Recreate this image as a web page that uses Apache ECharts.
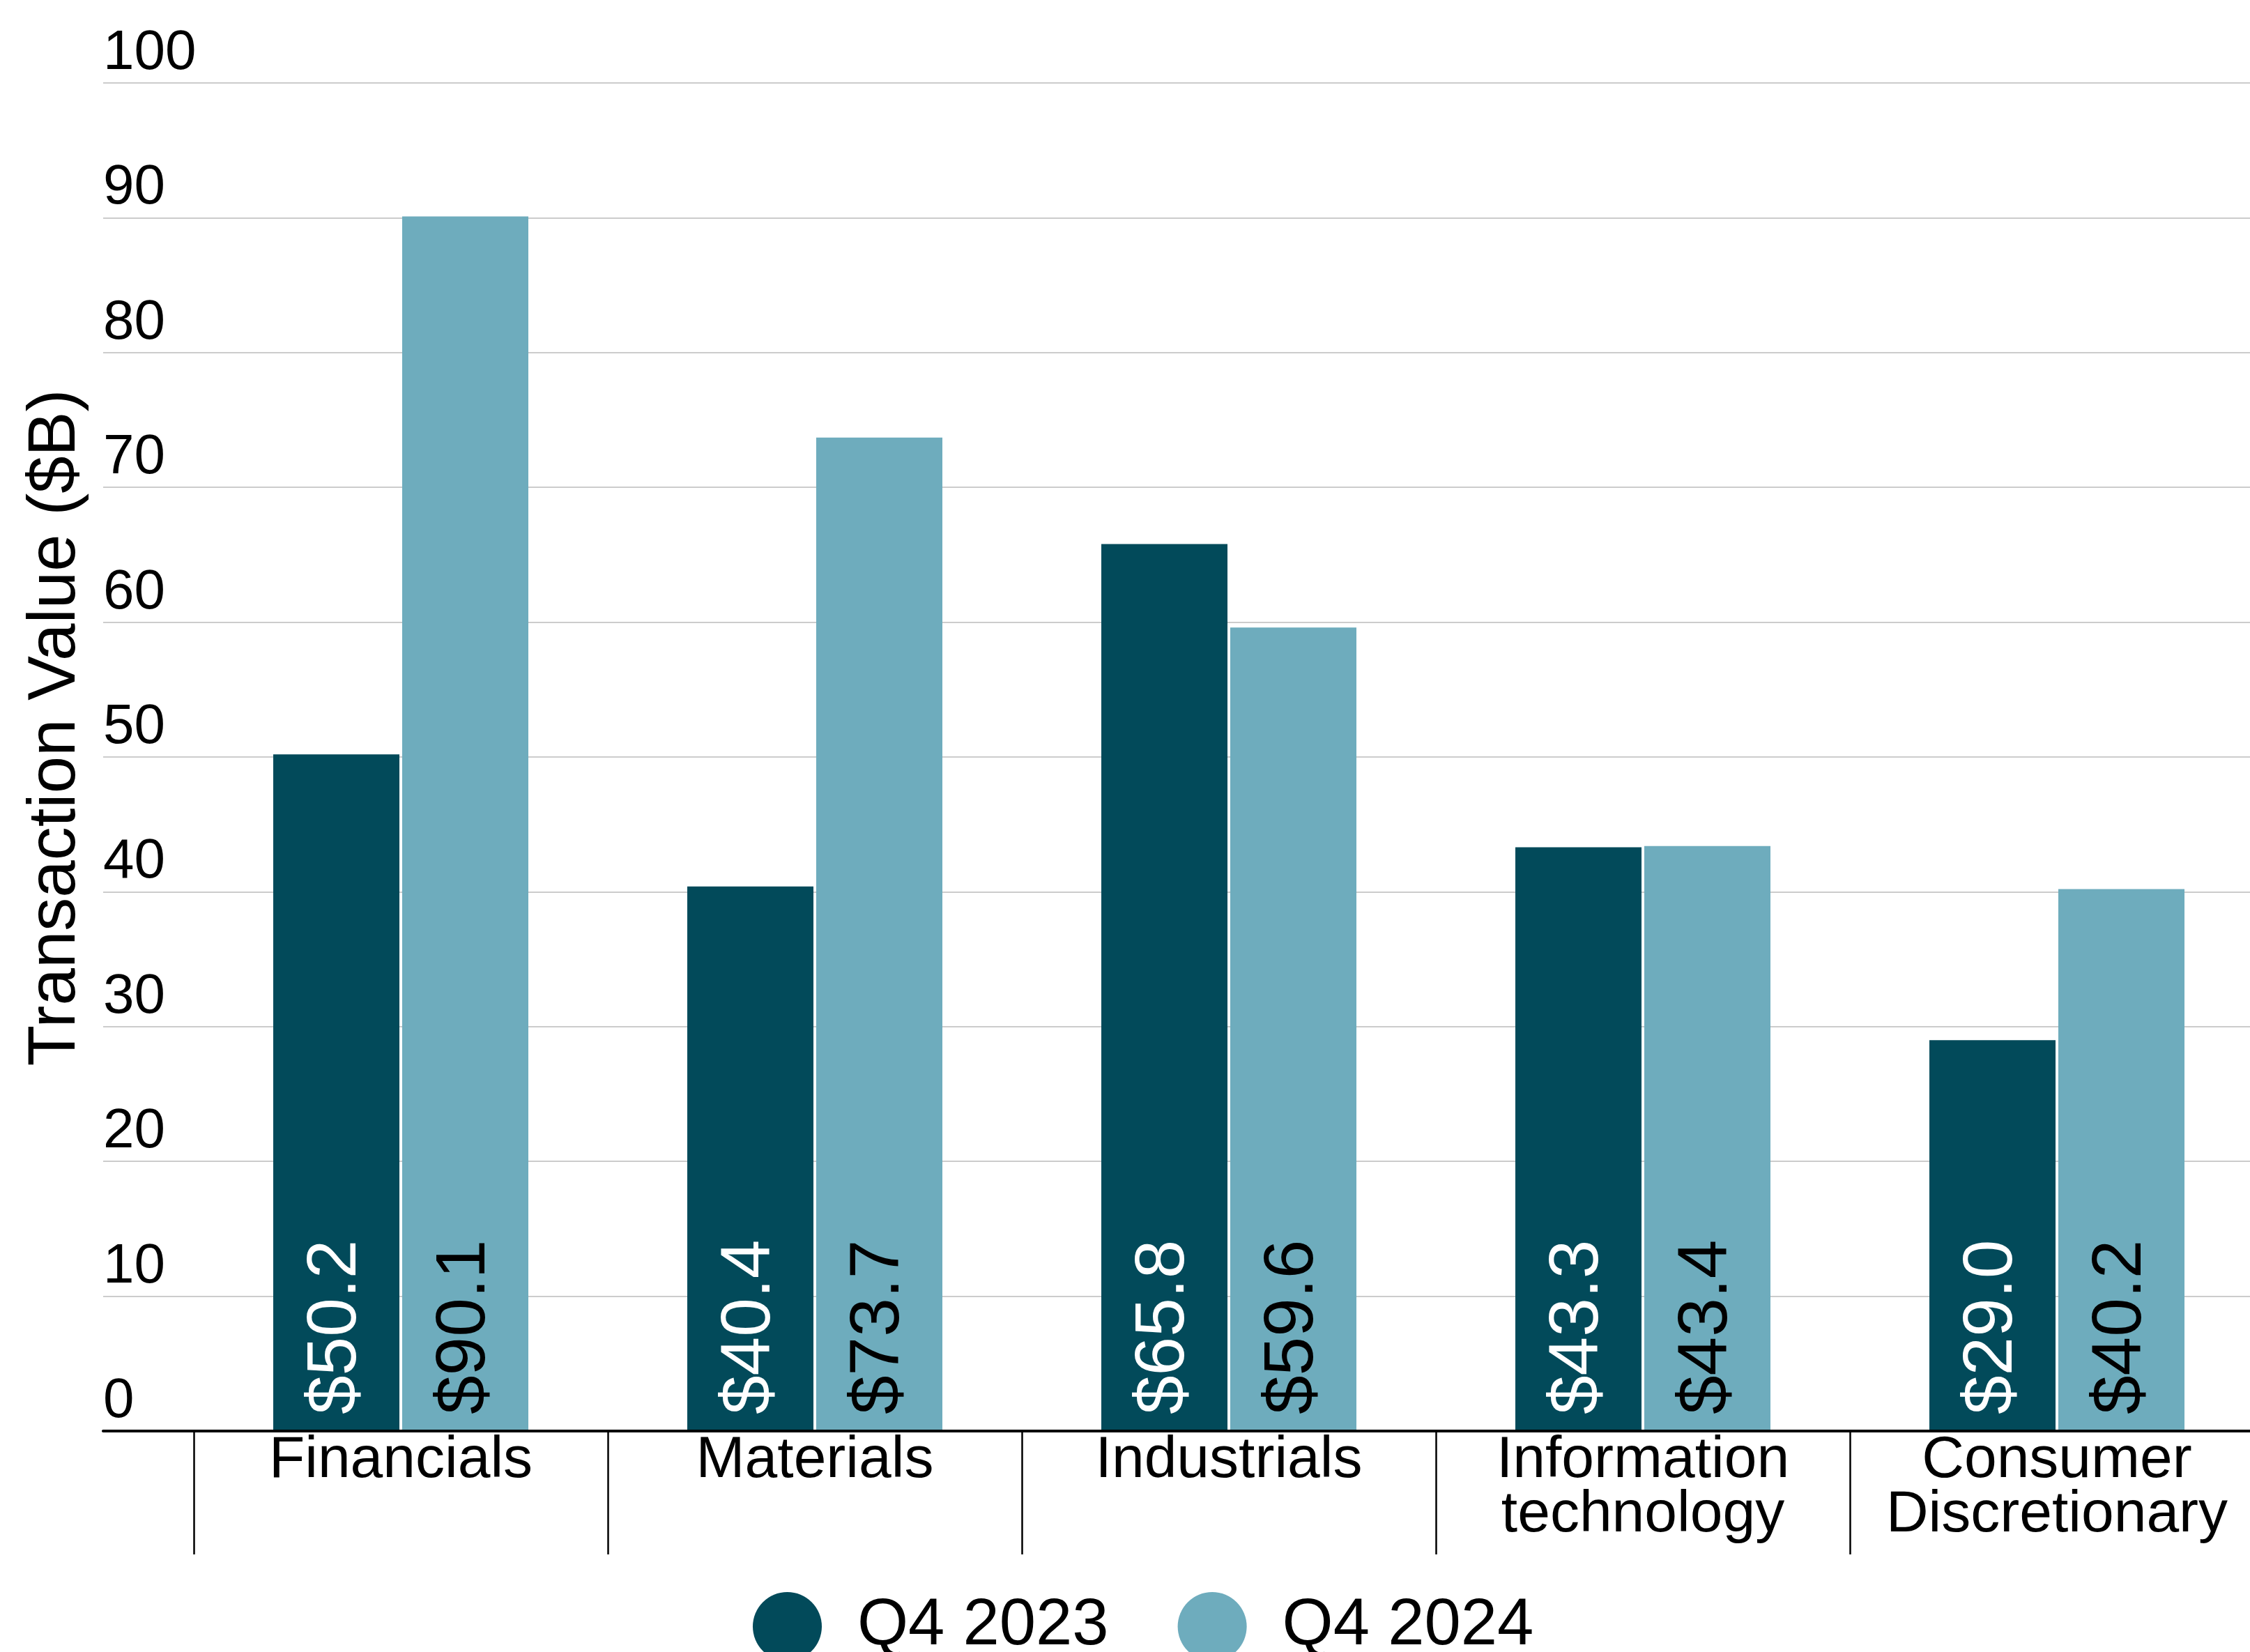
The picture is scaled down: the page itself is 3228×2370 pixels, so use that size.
<!DOCTYPE html>
<html>
<head>
<meta charset="utf-8">
<script src="https://cdn.jsdelivr.net/npm/echarts@6/dist/echarts.min.js"></script>
<style>
  html, body { margin: 0; padding: 0; background: #ffffff; overflow: hidden; }
  /* canvas runs 20px past the window so the last sector band is cut at the edge */
  #chart { width: 3248px; height: 2370px; }
</style>
</head>
<body>
<div id="chart"></div>
<script>
// Transaction value by sector, Q4 2023 vs Q4 2024 ($B)
const categories = ['Financials', 'Materials', 'Industrials', 'Information\ntechnology', 'Consumer\nDiscretionary'];
const seriesNames = ['Q4 2023', 'Q4 2024'];
const q4_2023 = [50.2, 40.4, 65.8, 43.3, 29.0];
const q4_2024 = [90.1, 73.7, 59.6, 43.4, 40.2];
const yTicks = { min: 0, max: 100, interval: 10 };

const DARK = '#024a5a';
const LIGHT = '#6eacbd';
const FONT = '"Liberation Sans", Arial, sans-serif';

const chart = echarts.init(document.getElementById('chart'), null, { renderer: 'canvas' });

function barLabel(color) {
  return {
    show: true,
    position: 'insideBottom',
    rotate: 90,
    align: 'left',
    verticalAlign: 'middle',
    distance: 24,
    color: color,
    fontSize: 100,
    fontFamily: FONT,
    formatter: p => '$' + p.value.toFixed(1)
  };
}

const option = {
  backgroundColor: '#ffffff',
  animation: false,
  textStyle: { fontFamily: FONT },
  grid: [
    // value grid: gridlines, tick labels, baseline
    { left: 148, right: 20, top: 119, bottom: 317 },
    // category grid: bars and sector bands
    { left: 278, right: 0, top: 119, bottom: 317 }
  ],
  legend: {
    data: seriesNames,
    left: 1075,
    top: 2279,
    icon: 'circle',
    itemWidth: 99,
    itemHeight: 99,
    itemGap: 99,
    textStyle: { fontSize: 94, color: '#000000', fontFamily: FONT, padding: [0, 0, 0, 46] }
  },
  xAxis: [
    {
      gridIndex: 0,
      type: 'category',
      data: [''],
      z: 10,
      axisLine: { show: true, lineStyle: { color: '#000000', width: 4 } },
      axisTick: { show: false },
      axisLabel: { show: false },
      splitLine: { show: false }
    },
    {
      gridIndex: 1,
      type: 'category',
      data: categories,
      axisLine: { show: false },
      axisTick: { show: true, length: 177, interval: 0, lineStyle: { color: '#000000', width: 2.5 } },
      axisLabel: {
        show: true,
        interval: 0,
        margin: 4,
        color: '#000000',
        fontSize: 84,
        lineHeight: 78,
        fontFamily: FONT,
        align: 'center'
      },
      splitLine: { show: false }
    }
  ],
  yAxis: [
    {
      gridIndex: 0,
      type: 'value',
      min: yTicks.min,
      max: yTicks.max,
      interval: yTicks.interval,
      name: 'Transaction Value ($B)',
      nameLocation: 'middle',
      nameRotate: 90,
      nameGap: 67,
      nameTextStyle: {
        fontSize: 96,
        color: '#000000',
        fontFamily: FONT,
        verticalAlign: 'middle',
        padding: [0, 0, 0, 84]
      },
      axisLine: { show: false },
      axisTick: { show: false },
      axisLabel: {
        inside: true,
        margin: 0,
        color: '#000000',
        fontSize: 80,
        lineHeight: 80,
        fontFamily: FONT,
        verticalAlign: 'bottom',
        padding: [0, 0, 2, 0]
      },
      splitLine: { show: true, lineStyle: { color: '#cccccc', width: 2 } }
    },
    {
      gridIndex: 1,
      type: 'value',
      min: yTicks.min,
      max: yTicks.max,
      interval: yTicks.interval,
      show: false,
      splitLine: { show: false }
    }
  ],
  series: [
    {
      name: seriesNames[0],
      type: 'bar',
      xAxisIndex: 1,
      yAxisIndex: 1,
      data: q4_2023,
      barWidth: 181,
      barGap: '2.2%',
      itemStyle: { color: DARK },
      label: barLabel('#ffffff')
    },
    {
      name: seriesNames[1],
      type: 'bar',
      xAxisIndex: 1,
      yAxisIndex: 1,
      data: q4_2024,
      barWidth: 181,
      barGap: '2.2%',
      itemStyle: { color: LIGHT },
      label: barLabel('#000000')
    }
  ]
};

chart.setOption(option);
</script>
</body>
</html>
